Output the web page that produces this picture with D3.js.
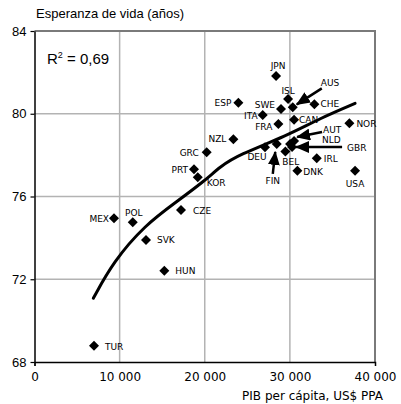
<!DOCTYPE html>
<html lang="es">
<head>
<meta charset="utf-8">
<script src="https://d3js.org/d3.v7.min.js"></script>
<style>
  body { margin: 0; background: #fff; }
  svg { display: block; }
</style>
</head>
<body>
<script>
// data
var countries = ["JPN","ISL","AUS","SWE","CHE","ESP","ITA","CAN","FRA","NOR","NZL","GRC","PRT","KOR",
                 "DEU","FIN","BEL","AUT","NLD","GBR","IRL","DNK","USA","CZE","MEX","POL","SVK","HUN","TUR"];
var gdp = [28380,29790,30340,28960,32880,23950,26810,30490,28650,36990,23360,20230,18740,19180,
           27080,28460,29470,30490,30020,30260,33160,30880,37660,17210,9340,11540,13100,15250,6990];
var lifeExp = [81.83,80.71,80.31,80.23,80.46,80.53,79.94,79.71,79.50,79.54,78.77,78.14,77.32,76.93,
               78.38,78.54,78.17,78.68,78.54,78.39,77.85,77.25,77.25,75.35,74.95,74.75,73.90,72.41,68.79];
// trend curve as drawn
var trendGdp = [6910,9260,12980,16710,20030,21800,23950,29630,33550,37660];
var trendLife = [71.08,72.85,74.62,75.75,76.77,77.44,78.01,78.93,79.78,80.50];
var xTicks = [0,10000,20000,30000,40000];
var yTicks = [68,72,76,80,84];

// label placement (px offsets from the marker)
var labelPos = {
  JPN:{a:"middle",dx:2,dy:-7}, ISL:{a:"middle",dx:0,dy:-5},
  AUS:{a:"start",dx:28,dy:-21,arrow:[29,-19,4,-3]},
  SWE:{a:"end",dx:-6,dy:-1}, CHE:{a:"start",dx:6,dy:3}, ESP:{a:"end",dx:-7,dy:3},
  ITA:{a:"end",dx:-5,dy:4}, CAN:{a:"start",dx:5,dy:3}, FRA:{a:"end",dx:-6,dy:6},
  NOR:{a:"start",dx:7,dy:4}, NZL:{a:"end",dx:-7,dy:3}, GRC:{a:"end",dx:-8,dy:4},
  PRT:{a:"end",dx:-6,dy:4}, KOR:{a:"start",dx:9,dy:9}, DEU:{a:"middle",dx:-8,dy:13},
  FIN:{a:"middle",dx:-4,dy:40,arrow:[-4,30,-1.5,8]}, BEL:{a:"start",dx:-3,dy:13},
  AUT:{a:"start",dx:29,dy:-8,arrow:[28,-9,3,-4]}, NLD:{a:"start",dx:32,dy:-1},
  GBR:{a:"start",dx:55,dy:4,arrow:[50,0,4,0]}, IRL:{a:"start",dx:7,dy:4},
  DNK:{a:"start",dx:6,dy:4}, USA:{a:"middle",dx:0,dy:16}, CZE:{a:"start",dx:12,dy:4},
  MEX:{a:"end",dx:-5,dy:4}, POL:{a:"middle",dx:1,dy:-6}, SVK:{a:"start",dx:11,dy:3},
  HUN:{a:"start",dx:11,dy:3}, TUR:{a:"start",dx:11,dy:4}
};

var W = 401, H = 404;
var mLeft = 34.5, mRight = 375, mTop = 31, mBottom = 362;

var svg = d3.select("body").append("svg").attr("width", W).attr("height", H);

var x = d3.scaleLinear().domain([0,40000]).range([mLeft,mRight]);
var y = d3.scaleLinear().domain([68,84]).range([mBottom,mTop]);

var fmt = d3.formatLocale({decimal:",", thousands:" ", grouping:[3], currency:["","$"]}).format(",d");

// gridlines
svg.append("g").selectAll("line").data(xTicks.slice(1,4)).join("line")
  .attr("x1", d => x(d)).attr("x2", d => x(d)).attr("y1", mTop).attr("y2", mBottom)
  .attr("stroke", "#b3b3b3").attr("stroke-width", 1.5);
svg.append("g").selectAll("line").data(yTicks.slice(1,4)).join("line")
  .attr("x1", mLeft).attr("x2", mRight).attr("y1", d => y(d)).attr("y2", d => y(d))
  .attr("stroke", "#b3b3b3").attr("stroke-width", 1.5);

// top / right frame
svg.append("path")
  .attr("d", "M" + mLeft + "," + mTop + "H" + mRight + "V" + mBottom)
  .attr("fill", "none").attr("stroke", "#7a7a7a").attr("stroke-width", 2);

// axes
var xAxis = svg.append("g").attr("transform", "translate(0," + mBottom + ")")
  .call(d3.axisBottom(x).tickValues(xTicks).tickSize(4).tickFormat(fmt));
xAxis.selectAll(".tick line").filter(d => d !== 0 && d !== 40000).remove();
xAxis.select(".domain").attr("stroke", "#000").attr("stroke-width", 1.5);
xAxis.selectAll("text").attr("font-family", "DejaVu Sans").attr("font-size", 12)
  .attr("fill", "#000").attr("dy", "0.92em").attr("y", 8);

var yAxis = svg.append("g").attr("transform", "translate(" + mLeft + ",0)")
  .call(d3.axisLeft(y).tickValues(yTicks).tickSize(4).tickSizeOuter(0));
yAxis.select(".domain").attr("stroke", "#000").attr("stroke-width", 1.5);
yAxis.selectAll(".tick line").attr("stroke-width", 1.2);
yAxis.selectAll("text").attr("font-family", "Liberation Sans").attr("font-size", 13)
  .attr("fill", "#000").attr("x", -8);

// titles
svg.append("text").attr("x", 36).attr("y", 18)
  .attr("font-family", "Liberation Sans").attr("font-size", 13)
  .text("Esperanza de vida (años)");
svg.append("text").attr("x", 383).attr("y", 400).attr("text-anchor", "end")
  .attr("font-family", "DejaVu Sans").attr("font-size", 12)
  .text("PIB per cápita, US$ PPA");

var r2 = svg.append("text").attr("x", 47).attr("y", 64)
  .attr("font-family", "Liberation Sans").attr("font-size", 15);
r2.append("tspan").text("R");
r2.append("tspan").attr("font-size", 9).attr("dy", -6).text("2");
r2.append("tspan").attr("dy", 6).text(" = 0,69");

// trend curve
var trend = trendGdp.map((g,i) => [g, trendLife[i]]);
svg.append("path").datum(trend)
  .attr("d", d3.line().x(d => x(d[0])).y(d => y(d[1])).curve(d3.curveBasis))
  .attr("fill", "none").attr("stroke", "#000").attr("stroke-width", 3).attr("stroke-linecap", "round");

// points
var pts = countries.map((c,i) => ({c:c, g:gdp[i], l:lifeExp[i]}));
svg.append("g").selectAll("path").data(pts).join("path")
  .attr("transform", d => "translate(" + x(d.g) + "," + y(d.l) + ")")
  .attr("d", "M0,-5L5,0L0,5L-5,0Z")
  .attr("fill", "#000");

// arrows
var defs = svg.append("defs");
defs.append("marker").attr("id", "head")
  .attr("viewBox", "0 0 14 12").attr("refX", 13).attr("refY", 6)
  .attr("markerWidth", 14).attr("markerHeight", 12)
  .attr("markerUnits", "userSpaceOnUse").attr("orient", "auto")
  .append("path").attr("d", "M0,0L14,6L0,12Z").attr("fill", "#000");

svg.append("g").selectAll("line").data(pts.filter(d => labelPos[d.c].arrow)).join("line")
  .attr("x1", d => x(d.g) + labelPos[d.c].arrow[0])
  .attr("y1", d => y(d.l) + labelPos[d.c].arrow[1])
  .attr("x2", d => x(d.g) + labelPos[d.c].arrow[2])
  .attr("y2", d => y(d.l) + labelPos[d.c].arrow[3])
  .attr("stroke", "#000").attr("stroke-width", 2.5)
  .attr("marker-end", "url(#head)");

// labels
svg.append("g").selectAll("text").data(pts).join("text")
  .attr("x", d => x(d.g) + labelPos[d.c].dx)
  .attr("y", d => y(d.l) + labelPos[d.c].dy)
  .attr("text-anchor", d => labelPos[d.c].a)
  .attr("font-family", "DejaVu Sans").attr("font-size", 9)
  .attr("fill", "#000")
  .text(d => d.c);
</script>
</body>
</html>
